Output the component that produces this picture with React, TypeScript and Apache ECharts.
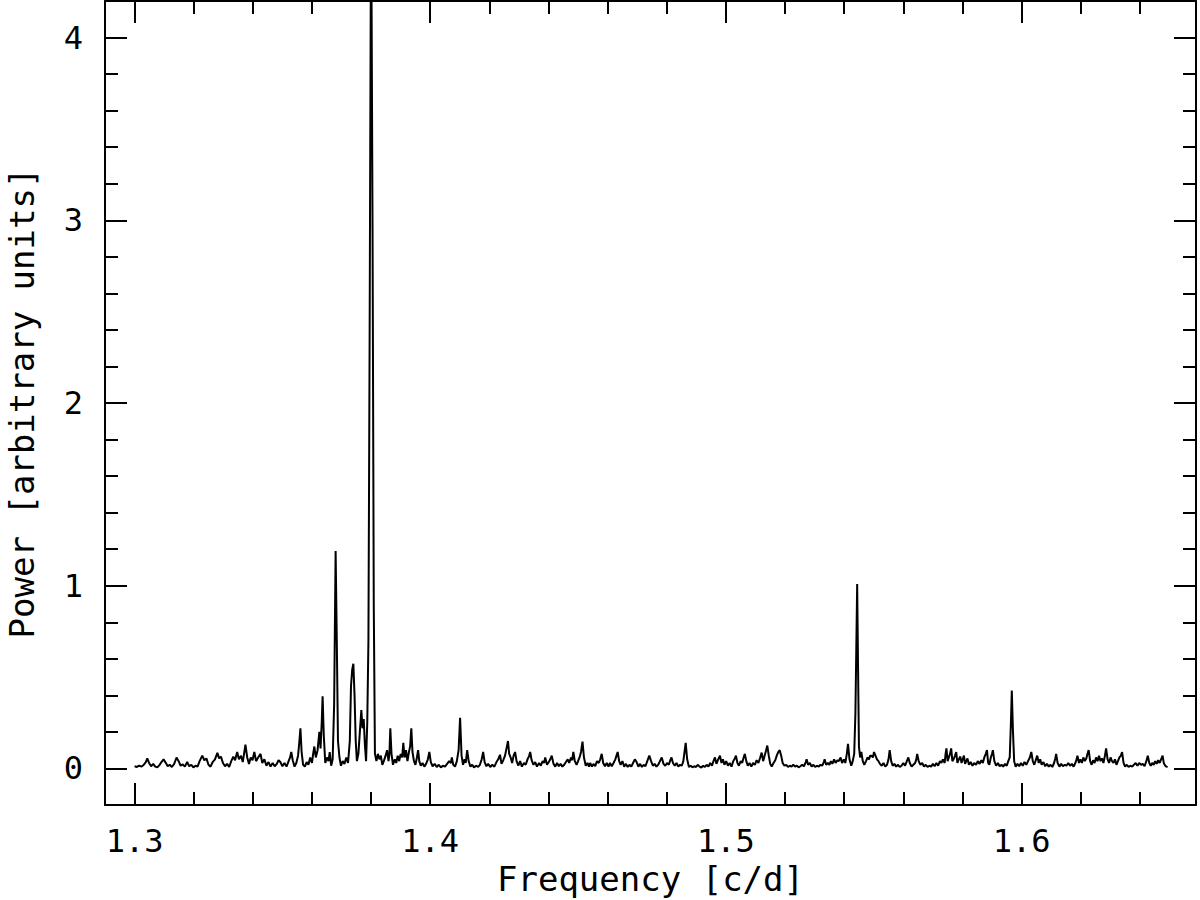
import React, { useEffect, useRef } from "react";
import * as echarts from "echarts";

// Periodogram: [frequency (c/d), power (arbitrary units)]
const spectrumA: number[][] = [
  [1.3000,0.012],[1.3008,0.008],[1.3016,0.015],[1.3024,0.010],[1.3032,0.022],[1.3038,0.035],[1.3043,0.055],[1.3049,0.030],[1.3056,0.012],[1.3063,0.025],[1.3070,0.010],[1.3077,0.006],[1.3084,0.018],[1.3091,0.035],[1.3098,0.050],[1.3105,0.032],[1.3112,0.012],[1.3119,0.020],[1.3126,0.008],[1.3134,0.025],[1.3142,0.060],[1.3149,0.040],[1.3156,0.015],[1.3163,0.022],[1.3170,0.010],[1.3178,0.035],[1.3185,0.012],[1.3192,0.020],[1.3199,0.006],[1.3206,0.015],[1.3213,0.010],[1.3220,0.040],[1.3229,0.070],[1.3236,0.045],[1.3243,0.055],[1.3250,0.020],[1.3257,0.010],[1.3264,0.035],[1.3272,0.050],[1.3280,0.085],[1.3286,0.055],[1.3292,0.065],[1.3299,0.030],[1.3306,0.012],[1.3313,0.025],[1.3320,0.008],[1.3327,0.040],[1.3334,0.065],[1.3340,0.045],[1.3347,0.090],[1.3353,0.050],[1.3360,0.070],[1.3366,0.035],[1.3375,0.130],[1.3381,0.060],[1.3387,0.025],[1.3393,0.060],[1.3399,0.045],[1.3405,0.090],[1.3411,0.040],[1.3418,0.060],[1.3426,0.080],[1.3432,0.030],[1.3439,0.050],[1.3446,0.015],[1.3453,0.035],[1.3460,0.010],[1.3467,0.030],[1.3474,0.012],[1.3481,0.025],[1.3487,0.045],[1.3493,0.035],[1.3500,0.012],[1.3507,0.030],[1.3514,0.010],[1.3521,0.040],[1.3526,0.060],[1.3530,0.090],[1.3535,0.045],[1.3541,0.010],[1.3547,0.030],[1.3553,0.070],[1.3557,0.140],[1.3561,0.220],[1.3565,0.090],[1.3570,0.020],
];

const spectrumB: number[][] = [
  [1.3576,0.010],[1.3582,0.035],[1.3588,0.020],[1.3594,0.060],[1.3600,0.030],[1.3604,0.080],[1.3608,0.120],[1.3613,0.060],[1.3619,0.100],[1.3625,0.200],[1.3629,0.110],[1.3633,0.250],[1.3636,0.395],[1.3640,0.180],[1.3645,0.030],[1.3651,0.060],[1.3656,0.040],[1.3660,0.090],[1.3665,0.015],[1.3670,0.050],[1.3675,0.350],[1.3680,1.190],[1.3684,0.700],[1.3688,0.150],[1.3693,0.060],[1.3698,0.015],[1.3704,0.040],[1.3710,0.025],[1.3716,0.060],[1.3722,0.030],[1.3728,0.150],[1.3732,0.450],[1.3736,0.540],[1.3740,0.573],[1.3744,0.400],[1.3748,0.150],[1.3752,0.040],[1.3757,0.080],[1.3762,0.200],[1.3767,0.320],[1.3771,0.220],[1.3775,0.270],[1.3779,0.130],[1.3783,0.040],[1.3787,0.250],[1.3791,0.700],[1.3795,2.350],[1.3800,4.800],[1.3805,2.900],[1.3809,0.900],[1.3813,0.080],[1.3818,0.040],[1.3823,0.080],[1.3828,0.050],[1.3833,0.070],[1.3838,0.020],[1.3843,0.040],[1.3849,0.070],[1.3854,0.100],[1.3859,0.040],[1.3862,0.080],[1.3865,0.220],[1.3869,0.080],[1.3874,0.020],[1.3880,0.050],[1.3885,0.030],[1.3890,0.070],[1.3895,0.040],[1.3900,0.080],[1.3905,0.060],[1.3909,0.140],[1.3913,0.060],[1.3918,0.100],[1.3923,0.040],[1.3928,0.090],[1.3932,0.120],[1.3936,0.220],[1.3940,0.090],[1.3945,0.040],[1.3950,0.020],[1.3955,0.060],[1.3959,0.100],[1.3963,0.040],[1.3968,0.015],[1.3974,0.030],[1.3980,0.010],[1.3986,0.025],[1.3992,0.050],[1.3997,0.090],[1.4002,0.035],
];

const spectrumC: number[][] = [
  [1.4008,0.012],[1.4015,0.025],[1.4022,0.008],[1.4029,0.020],[1.4036,0.006],[1.4043,0.015],[1.4050,0.010],[1.4057,0.025],[1.4064,0.040],[1.4070,0.030],[1.4073,0.060],[1.4078,0.020],[1.4084,0.010],[1.4090,0.040],[1.4096,0.100],[1.4101,0.277],[1.4106,0.070],[1.4111,0.020],[1.4116,0.050],[1.4120,0.030],[1.4125,0.100],[1.4130,0.040],[1.4136,0.010],[1.4142,0.020],[1.4148,0.006],[1.4155,0.015],[1.4162,0.008],[1.4168,0.020],[1.4174,0.050],[1.4179,0.090],[1.4184,0.035],[1.4190,0.012],[1.4196,0.025],[1.4203,0.008],[1.4210,0.020],[1.4217,0.010],[1.4224,0.035],[1.4230,0.050],[1.4236,0.075],[1.4241,0.025],[1.4247,0.045],[1.4253,0.070],[1.4258,0.110],[1.4263,0.150],[1.4267,0.080],[1.4272,0.060],[1.4277,0.030],[1.4282,0.070],[1.4287,0.090],[1.4292,0.040],[1.4298,0.015],[1.4304,0.040],[1.4310,0.010],[1.4317,0.030],[1.4323,0.020],[1.4329,0.050],[1.4334,0.065],[1.4338,0.090],[1.4343,0.045],[1.4349,0.020],[1.4355,0.035],[1.4361,0.010],[1.4368,0.030],[1.4374,0.015],[1.4380,0.040],[1.4385,0.030],[1.4389,0.060],[1.4395,0.020],[1.4401,0.035],[1.4406,0.050],[1.4411,0.070],[1.4417,0.025],[1.4423,0.010],[1.4429,0.030],[1.4435,0.012],[1.4441,0.025],[1.4447,0.010],[1.4453,0.020],[1.4459,0.035],[1.4465,0.050],[1.4470,0.030],[1.4476,0.060],[1.4480,0.045],[1.4484,0.090],[1.4489,0.040],[1.4495,0.020],[1.4500,0.040],[1.4505,0.060],[1.4510,0.090],[1.4515,0.147],[1.4520,0.060],[1.4526,0.015],[1.4532,0.030],[1.4537,0.010],[1.4541,0.030],[1.4547,0.010],[1.4552,0.025],[1.4558,0.012],[1.4564,0.040],[1.4570,0.030],[1.4575,0.050],[1.4580,0.080],[1.4585,0.030],[1.4591,0.012],[1.4597,0.030],[1.4603,0.010],[1.4608,0.030],[1.4614,0.012],[1.4620,0.030],[1.4626,0.050],[1.4630,0.070],[1.4634,0.090],[1.4639,0.040],[1.4644,0.020],[1.4650,0.040],[1.4656,0.010],[1.4662,0.025],[1.4668,0.008],[1.4674,0.020],[1.4680,0.010],[1.4686,0.030],[1.4692,0.050],[1.4698,0.035],[1.4704,0.010],[1.4710,0.025],[1.4716,0.008],[1.4722,0.020],[1.4728,0.012],[1.4734,0.040],[1.4741,0.070],[1.4747,0.040],[1.4753,0.015],[1.4759,0.025],[1.4765,0.010],[1.4771,0.020],[1.4777,0.040],[1.4783,0.060],[1.4789,0.025],[1.4795,0.015],[1.4801,0.030],[1.4807,0.020],[1.4812,0.045],[1.4816,0.060],[1.4821,0.030],[1.4827,0.015],[1.4833,0.030],[1.4839,0.010],[1.4845,0.020],[1.4851,0.015],[1.4856,0.040],[1.4860,0.090],[1.4864,0.140],[1.4869,0.050],[1.4875,0.008],[1.4881,0.015],
];

const spectrumD: number[][] = [
  [1.4887,0.006],[1.4893,0.012],[1.4899,0.008],[1.4905,0.020],[1.4911,0.010],[1.4917,0.005],[1.4923,0.015],[1.4929,0.008],[1.4935,0.020],[1.4941,0.010],[1.4947,0.030],[1.4953,0.015],[1.4958,0.040],[1.4963,0.060],[1.4968,0.025],[1.4974,0.050],[1.4980,0.070],[1.4985,0.030],[1.4990,0.050],[1.4995,0.020],[1.5001,0.040],[1.5007,0.015],[1.5013,0.030],[1.5019,0.010],[1.5025,0.040],[1.5030,0.055],[1.5034,0.070],[1.5039,0.030],[1.5044,0.015],[1.5050,0.040],[1.5055,0.030],[1.5060,0.060],[1.5064,0.080],[1.5069,0.040],[1.5074,0.015],[1.5080,0.030],[1.5086,0.010],[1.5092,0.030],[1.5098,0.020],[1.5104,0.045],[1.5110,0.030],[1.5116,0.060],[1.5121,0.087],[1.5126,0.040],[1.5131,0.070],[1.5136,0.100],[1.5140,0.125],[1.5145,0.070],[1.5150,0.025],[1.5155,0.010],[1.5161,0.030],[1.5167,0.045],[1.5172,0.070],[1.5177,0.090],[1.5182,0.100],[1.5187,0.070],[1.5192,0.030],[1.5198,0.015],[1.5204,0.020],[1.5210,0.008],[1.5216,0.015],[1.5222,0.010],[1.5228,0.020],[1.5234,0.010],[1.5240,0.015],[1.5246,0.006],[1.5252,0.012],[1.5258,0.020],[1.5264,0.012],[1.5270,0.035],[1.5273,0.050],[1.5278,0.020],[1.5284,0.030],[1.5290,0.010],[1.5296,0.020],[1.5302,0.008],[1.5308,0.015],[1.5314,0.010],[1.5320,0.020],[1.5326,0.015],[1.5331,0.035],[1.5334,0.050],[1.5339,0.020],[1.5345,0.030],[1.5350,0.020],[1.5355,0.040],[1.5360,0.025],[1.5366,0.050],[1.5371,0.030],[1.5377,0.045],[1.5382,0.040],[1.5388,0.060],[1.5393,0.030],[1.5399,0.050],[1.5404,0.030],[1.5409,0.080],[1.5413,0.135],[1.5418,0.050],[1.5424,0.015],[1.5429,0.040],[1.5434,0.080],[1.5438,0.300],[1.5441,0.650],[1.5444,1.010],[1.5447,0.550],[1.5450,0.120],[1.5454,0.060],[1.5458,0.090],[1.5463,0.040],[1.5468,0.020],[1.5474,0.040],[1.5479,0.060],[1.5484,0.050],[1.5488,0.070],[1.5492,0.070],[1.5497,0.060],[1.5501,0.090],[1.5506,0.070],[1.5511,0.050],[1.5516,0.040],[1.5521,0.025],[1.5527,0.015],[1.5533,0.030],[1.5539,0.010],[1.5545,0.020],[1.5550,0.050],[1.5554,0.100],[1.5559,0.040],[1.5564,0.015],[1.5570,0.025],[1.5576,0.010],[1.5582,0.020],
];

const spectrumE: number[][] = [
  [1.5588,0.008],[1.5594,0.015],[1.5600,0.030],[1.5606,0.015],[1.5612,0.040],[1.5617,0.060],[1.5622,0.030],[1.5628,0.010],[1.5634,0.020],[1.5640,0.030],[1.5644,0.050],[1.5647,0.080],[1.5652,0.040],[1.5658,0.020],[1.5664,0.030],[1.5670,0.010],[1.5676,0.020],[1.5682,0.008],[1.5688,0.015],[1.5694,0.010],[1.5700,0.025],[1.5706,0.012],[1.5712,0.030],[1.5718,0.015],[1.5724,0.040],[1.5729,0.030],[1.5734,0.050],[1.5740,0.030],[1.5743,0.080],[1.5746,0.110],[1.5750,0.040],[1.5754,0.060],[1.5758,0.080],[1.5762,0.110],[1.5766,0.040],[1.5770,0.050],[1.5775,0.070],[1.5779,0.090],[1.5783,0.030],[1.5788,0.050],[1.5793,0.065],[1.5797,0.030],[1.5801,0.050],[1.5805,0.070],[1.5809,0.025],[1.5813,0.040],[1.5817,0.055],[1.5822,0.020],[1.5828,0.035],[1.5834,0.015],[1.5840,0.030],[1.5846,0.020],[1.5852,0.040],[1.5858,0.025],[1.5864,0.045],[1.5869,0.030],[1.5874,0.060],[1.5879,0.080],[1.5883,0.100],[1.5887,0.030],[1.5891,0.020],[1.5896,0.060],[1.5900,0.080],[1.5903,0.100],[1.5908,0.040],[1.5914,0.015],[1.5920,0.030],[1.5926,0.012],[1.5932,0.020],[1.5938,0.010],[1.5944,0.025],[1.5950,0.015],[1.5955,0.040],[1.5960,0.060],[1.5964,0.250],[1.5967,0.426],[1.5971,0.200],[1.5975,0.040],[1.5980,0.010],[1.5986,0.025],[1.5992,0.012],[1.5998,0.030],[1.6004,0.015],[1.6010,0.035],[1.6016,0.020],[1.6022,0.040],[1.6028,0.060],[1.6033,0.090],[1.6038,0.040],[1.6043,0.020],[1.6048,0.045],[1.6053,0.070],[1.6058,0.030],[1.6063,0.050],[1.6068,0.020],[1.6074,0.035],[1.6080,0.012],[1.6086,0.025],[1.6092,0.010],[1.6098,0.020],[1.6104,0.008],[1.6110,0.030],[1.6114,0.055],[1.6117,0.080],[1.6122,0.030],[1.6128,0.010],[1.6134,0.025],[1.6140,0.012],[1.6146,0.020],[1.6152,0.015],[1.6158,0.030],[1.6164,0.015],[1.6170,0.025],[1.6176,0.010],[1.6182,0.030],[1.6186,0.050],[1.6189,0.070],[1.6194,0.030],[1.6199,0.050],[1.6204,0.030],[1.6209,0.060],[1.6214,0.040],[1.6219,0.055],[1.6223,0.080],[1.6227,0.100],[1.6232,0.040],[1.6237,0.020],[1.6242,0.045],[1.6247,0.030],[1.6252,0.060],[1.6257,0.040],[1.6262,0.070],[1.6267,0.040],[1.6272,0.055],[1.6277,0.030],[1.6282,0.070],[1.6286,0.110],[1.6291,0.050],[1.6296,0.030],[1.6301,0.060],[1.6306,0.040],[1.6311,0.030],[1.6316,0.050],[1.6321,0.020],[1.6326,0.040],[1.6331,0.060],[1.6336,0.070],[1.6340,0.090],[1.6345,0.030],[1.6350,0.010],[1.6356,0.020],[1.6362,0.008],[1.6368,0.015],[1.6374,0.010],[1.6380,0.020],[1.6386,0.030],[1.6392,0.015],[1.6398,0.030],[1.6404,0.020],[1.6410,0.025],[1.6416,0.012],[1.6422,0.040],[1.6427,0.070],[1.6432,0.030],[1.6437,0.015],[1.6442,0.030],[1.6447,0.020],[1.6452,0.040],[1.6457,0.025],[1.6462,0.045],[1.6467,0.030],[1.6472,0.050],[1.6477,0.070],[1.6481,0.030],[1.6486,0.015],[1.6490,0.010],[1.6494,0.008],
];

const xRange = [1.29, 1.659];
const yRange = [-0.2, 4.2];
const xTitle = "Frequency [c/d]";
const yTitle = "Power [arbitrary units]";

const FONT = "'DejaVu Sans Mono', 'Liberation Mono', monospace";

export default function App() {
  const ref = useRef<HTMLDivElement>(null);
  useEffect(() => {
    if (!ref.current) return;
    const chart = echarts.init(ref.current, null, { renderer: "svg" });
    const data = [...spectrumA, ...spectrumB, ...spectrumC, ...spectrumD, ...spectrumE];
    const line = { lineStyle: { color: "#000", width: 2 } };
    const tick = { show: true, inside: true, length: 22, lineStyle: { color: "#000", width: 2 } };
    const minor = { show: true, splitNumber: 5, length: 13, lineStyle: { color: "#000", width: 2 } };
    const xCommon = {
      type: "value",
      min: xRange[0],
      max: xRange[1],
      axisLine: { show: true, onZero: false, ...line },
      axisTick: tick,
      minorTick: minor,
      splitLine: { show: false },
      minorSplitLine: { show: false },
    };
    const yCommon = {
      type: "value",
      min: yRange[0],
      max: yRange[1],
      axisLine: { show: true, onZero: false, ...line },
      axisTick: tick,
      minorTick: minor,
      splitLine: { show: false },
      minorSplitLine: { show: false },
    };
    chart.setOption({
      animation: false,
      backgroundColor: "#fff",
      grid: { left: 105, right: 4, top: 1, bottom: 95, containLabel: false, outerBoundsMode: "none" },
      xAxis: [
        {
          ...xCommon,
          position: "bottom",
          axisLabel: {
            show: true,
            showMinLabel: false,
            showMaxLabel: false,
            color: "#000",
            fontFamily: FONT,
            fontSize: 32,
            margin: 20,
            formatter: (v: number) => v.toFixed(1),
          },
          name: xTitle,
          nameLocation: "middle",
          nameGap: 56,
          nameTextStyle: { color: "#000", fontFamily: FONT, fontSize: 34 },
        },
        { ...xCommon, position: "top", axisLabel: { show: false } },
      ],
      yAxis: [
        {
          ...yCommon,
          position: "left",
          axisLabel: {
            show: true,
            showMinLabel: false,
            showMaxLabel: false,
            color: "#000",
            fontFamily: FONT,
            fontSize: 32,
            margin: 22,
            formatter: (v: number) => String(Math.round(v)),
          },
          name: yTitle,
          nameLocation: "middle",
          nameRotate: 90,
          nameGap: 66,
          nameTextStyle: { color: "#000", fontFamily: FONT, fontSize: 34 },
        },
        { ...yCommon, position: "right", axisLabel: { show: false } },
      ],
      series: [
        {
          type: "line",
          xAxisIndex: 0,
          yAxisIndex: 0,
          data,
          showSymbol: false,
          symbol: "none",
          clip: true,
          lineStyle: { color: "#000", width: 2 },
        },
      ],
    });
    return () => chart.dispose();
  }, []);
  return (
    <div
      ref={ref}
      style={{ position: "absolute", left: 0, top: 0, width: 1200, height: 900, background: "#fff" }}
    />
  );
}
